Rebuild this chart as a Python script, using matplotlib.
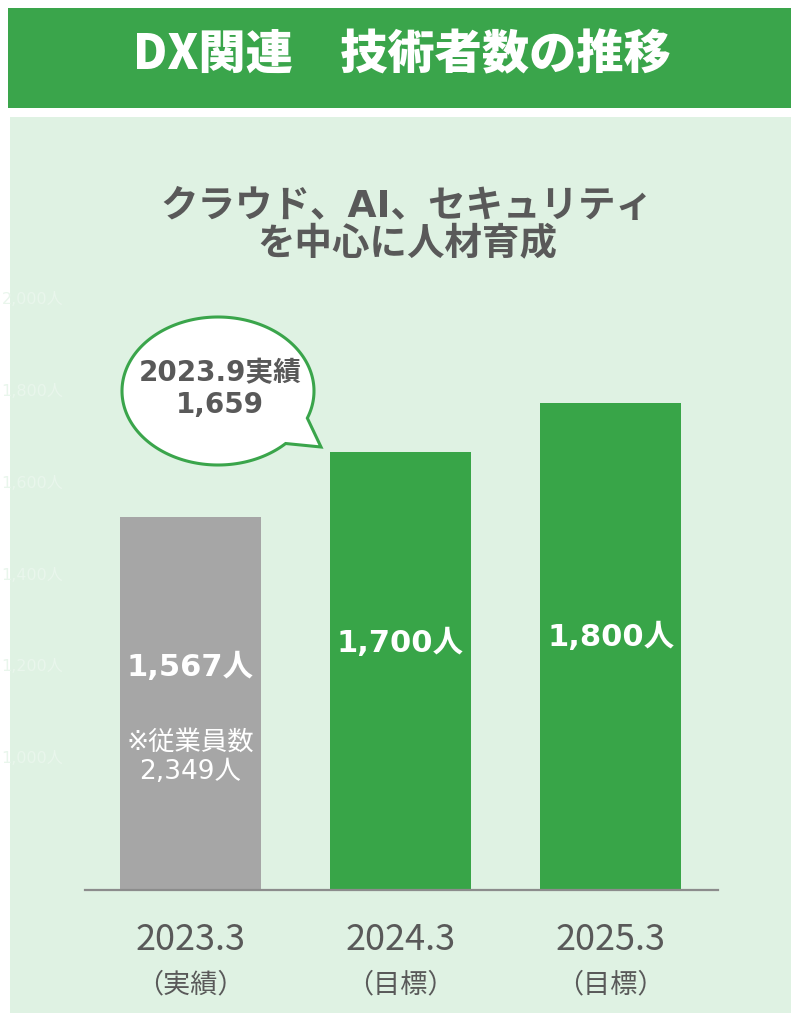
import numpy as np
import matplotlib.pyplot as plt
from matplotlib.patches import Rectangle, Polygon

# data
periods = ["2023.3", "2024.3", "2025.3"]
period_notes = ["（実績）", "（目標）", "（目標）"]
engineers = [1567, 1700, 1800]
bar_labels = ["1,567人", "1,700人", "1,800人"]
bar_colors = ["#A6A6A6", "#38A548", "#38A548"]
ghost_ticks = [1000, 1200, 1400, 1600, 1800, 2000]
ghost_ticklabels = ["1,000人", "1,200人", "1,400人", "1,600人", "1,800人", "2,000人"]

title = "DX関連　技術者数の推移"
subtitle = "クラウド、AI、セキュリティ\nを中心に人材育成"
bubble_text = "2023.9実績\n1,659"
employee_note = "※従業員数\n2,349人"

GREEN = "#3AA54B"
PANEL = "#DFF2E3"
DARK = "#595959"
JP = ["Noto Sans CJK JP", "DejaVu Sans"]
MIX = ["DejaVu Sans", "Noto Sans CJK JP"]

W, H = 791, 1013
fig = plt.figure(figsize=(W / 100, H / 100), dpi=100, facecolor="white")

# background layer in pixel coordinates (y down)
bg = fig.add_axes([0, 0, 1, 1], zorder=0)
bg.set_xlim(0, W)
bg.set_ylim(H, 0)
bg.axis("off")
bg.add_patch(Rectangle((8, 8), W - 8, 100, color=GREEN, lw=0))
bg.add_patch(Rectangle((10, 117), W - 10, H - 117, color=PANEL, lw=0))
bg.text(402, 55, title, color="white", fontsize=34, fontweight="heavy",
        family=JP, ha="center", va="center")
bg.text(407, 226, subtitle, color=DARK, fontsize=27, fontweight="bold",
        family=MIX, ha="center", va="center", linespacing=1.05)

# speech bubble
cx, cy, a, b = 218, 391, 96, 74
t1, t2 = np.deg2rad(21.5), np.deg2rad(45.2)
t = np.linspace(t2, t1 + 2 * np.pi, 200)
pts = np.column_stack([cx + a * np.cos(t), cy + b * np.sin(t)])
pts = np.vstack([pts, [[321, 447]]])
bg.add_patch(Polygon(pts, closed=True, facecolor="white", edgecolor=GREEN,
                     lw=2.2, joinstyle="miter"))
bg.text(220, 389, bubble_text, color=DARK, fontsize=20, fontweight="bold",
        family=MIX, ha="center", va="center", linespacing=1.15)

# faint leftover axis labels
gh = fig.add_axes([66 / W, 1 - 849 / H, 0.01, (849 - 298) / H], zorder=1)
gh.set_ylim(800, 2000)
gh.set_yticks(ghost_ticks)
gh.set_yticklabels(ghost_ticklabels, family=MIX, fontsize=11.5, color="#E9F6EC")
gh.tick_params(axis="y", length=0, pad=2)
gh.set_xticks([])
gh.patch.set_visible(False)
for s in gh.spines.values():
    s.set_visible(False)

# main bar chart
ax = fig.add_axes([85 / W, 1 - 890 / H, (718 - 85) / W, (890 - 300) / H], zorder=2)
ax.patch.set_visible(False)
x = np.arange(len(periods))
ax.bar(x, engineers, width=0.67, color=bar_colors, bottom=0)
ax.set_xlim(-0.5, 2.51)
ax.set_ylim(804, 2010)
ax.set_yticks([])
ax.set_xticks([])
for s in ["top", "right", "left"]:
    ax.spines[s].set_visible(False)
ax.spines["bottom"].set_color("#8C8C8C")
ax.spines["bottom"].set_linewidth(1.6)

label_offsets = [-151, -192, -235]  # px below bar top
for i, (v, lab) in enumerate(zip(engineers, bar_labels)):
    ax.annotate(lab, xy=(i, v), xytext=(0, label_offsets[i] * 0.72),
                textcoords="offset points", ha="center", va="center",
                color="white", fontsize=22, fontweight="bold", family=MIX)
ax.annotate(employee_note, xy=(0, engineers[0]), xytext=(0, -(757 - 516) * 0.72),
            textcoords="offset points", ha="center", va="center",
            color="white", fontsize=19, family=MIX, linespacing=1.15)

for i, (p, n) in enumerate(zip(periods, period_notes)):
    ax.annotate(p, xy=(i, 0), xycoords=("data", "axes fraction"),
                xytext=(0, -50 * 0.72), textcoords="offset points",
                ha="center", va="center", color=DARK, fontsize=26, family=JP)
    ax.annotate(n, xy=(i, 0), xycoords=("data", "axes fraction"),
                xytext=(0, -95 * 0.72), textcoords="offset points",
                ha="center", va="center", color=DARK, fontsize=19.5, family=JP)

fig.savefig("out.png", dpi=100, facecolor="white")
